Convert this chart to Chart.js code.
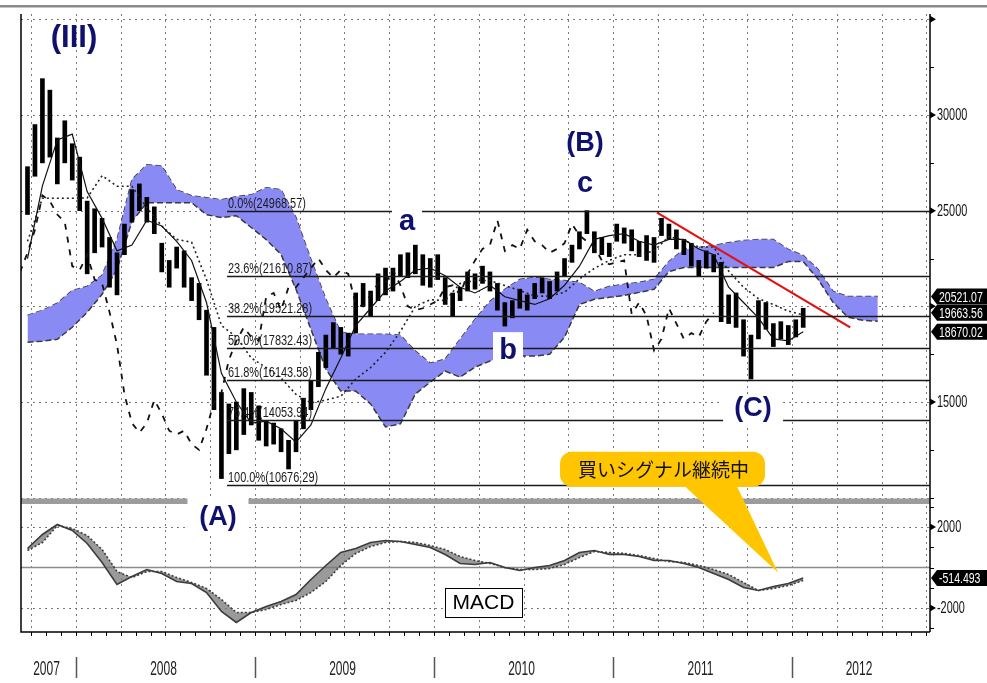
<!DOCTYPE html>
<html>
<head>
<meta charset="utf-8">
<script src="https://cdn.jsdelivr.net/npm/chart.js@4.4.1/dist/chart.umd.min.js"></script>
<style>
  html, body { margin: 0; padding: 0; background: #fff; }
  canvas { display: block; }
</style>
</head>
<body>
<canvas id="chart" width="987" height="683"></canvas>
<script>
// half-month index: 0 = Sep 2007 (2nd half), 1 = Oct 2007 (1st half) ... 104 = Jan 2012 (2nd half)
const X_MIN = -0.8715, X_MAX = 121.0;
const yearLabels = ['2007', '2008', '2009', '2010', '2011', '2012'];
const firstYearBoundary = 6.5;   // index where 2008 starts
const halfMonthsPerYear = 24;

// weekly price bars, sampled per half month
const highs = [27300, 29500, 31900, 31300, 28800, 29700, 28500, 27800, 25500, 25100,
  24600, 23600, 22800, 24300, 26100, 26400, 25700, 25200, 23300, 22400,
  23100, 22900, 21500, 21200, 19800, 18900, 15500, 14900, 15000, 15700,
  15500, 14800, 14000, 13900, 13600, 13000, 14000, 15200, 16100, 17600,
  18500, 19150, 18900, 18600, 20700, 21200, 20800, 21700, 22000, 22000,
  22700, 22800, 23200, 22700, 22500, 22700, 21500, 20700, 21000, 21800,
  21700, 22100, 21800, 21200, 20200, 20300, 20900, 20600, 21200, 21500,
  21300, 21800, 22500, 23200, 23900, 25000, 23900, 23600, 23300, 24300,
  24100, 24000, 23400, 23700, 23600, 24600, 24300, 24000, 23500, 23300,
  22400, 22900, 22700, 22300, 20600, 20700, 19300, 18500, 20300, 20200,
  19100, 19200, 19000, 19300, 19900];
const lows = [24800, 26800, 27500, 27800, 26400, 27500, 26600, 25000, 21700, 22800,
  23100, 21000, 20600, 22700, 24400, 25000, 24400, 23800, 21800, 21000,
  22000, 21000, 20300, 19300, 16400, 14600, 11000, 12300, 12500, 13300,
  13800, 13000, 12700, 12800, 12400, 11500, 12400, 13600, 14600, 15800,
  16800, 17800, 17500, 17400, 18600, 20000, 19500, 20300, 20600, 20800,
  21600, 21500, 21700, 21100, 21000, 21400, 20100, 19500, 20300, 20800,
  20900, 21200, 20800, 19800, 18970, 19400, 19900, 19800, 20400, 20700,
  20400, 20800, 21600, 22300, 23000, 23800, 22800, 22700, 22600, 23400,
  23300, 22900, 22600, 22400, 22300, 23700, 23500, 23000, 22700, 22100,
  21600, 22000, 21800, 19200, 19100, 18900, 17400, 16200, 18300, 18800,
  17900, 18300, 18000, 18400, 18900];
const closes = [27140, 29000, 31350, 28800, 28300, 28500, 27800, 25400, 24000, 23800,
  24000, 21800, 22800, 24000, 25800, 25500, 24800, 24400, 22100, 21900,
  22700, 21400, 21200, 19700, 18000, 15400, 13900, 13400, 13900, 15100,
  14400, 13500, 13300, 13500, 12800, 12500, 13600, 15000, 15500, 17200,
  18200, 18900, 18400, 18200, 20500, 20700, 19800, 21000, 21000, 21500,
  22000, 22500, 21900, 21500, 21900, 21700, 20100, 20000, 20600, 21200,
  21200, 21900, 21100, 20000, 19800, 19900, 20100, 20300, 21000, 21100,
  20600, 21700, 22400, 23000, 23200, 24500, 22900, 23200, 23000, 24000,
  23400, 23200, 22800, 23000, 23300, 24300, 23700, 23400, 23100, 22400,
  22200, 22300, 22400, 19600, 20200, 19500, 17700, 18300, 19900, 19100,
  18300, 18600, 18400, 19200, 19663.56];
const chikouShift = 12;   // 26 weeks

// monthly samples (index = 2 * j)
const tenkan = [22500, 26300, 28700, 29000, 26000, 24600, 22900, 23200, 24500, 24200,
  23400, 22400, 20200, 16500, 15000, 13900, 14000, 13600, 12900, 13800,
  15700, 17300, 19000, 19900, 20800, 21300, 21900, 22000, 21600, 21000,
  20700, 21100, 20500, 20300, 20100, 20400, 21100, 22100, 23500, 23700,
  23800, 23400, 23200, 23500, 23500, 23000, 22700, 21000, 20200, 19400,
  18300, 18200, 18670.02];
const kijun = [23400, 25650, 25650, 25650, 25670, 26830, 26280, 26280, 25150, 24200,
  23500, 23350, 21400, 19000, 18400, 17300, 16800, 16250, 15400, 14950,
  15100, 15300, 16200, 16800, 17600, 18700, 20000, 20350, 20300, 21200,
  21350, 21350, 21085, 20835, 20535, 20535, 20735, 21435, 21985, 22400,
  22700, 22700, 22900, 23650, 23450, 23100, 23100, 21850, 21000, 20400,
  20100, 19750, 19550];
const spanUpper = [19530, 19790, 20160, 20830, 21040, 21620, 23490, 26620, 27400, 27340,
  26090, 25780, 25680, 25570, 25730, 25830, 26200, 26090, 24640, 22450,
  20370, 18650, 18540, 18540, 18540, 18490, 17660, 17030, 17240, 18280,
  19320, 20260, 20890, 21410, 21510, 21410, 21350, 21250, 20780, 21040,
  21150, 21250, 21410, 22340, 22970, 23070, 23180, 23330, 23440, 23490,
  23490, 22970, 22660, 21930, 20780, 20520, 20520, 20521.07];
const spanLower = [18130, 18180, 18280, 18910, 19690, 20630, 21930, 24430, 25420, 25420,
  25420, 25420, 24790, 24640, 24740, 24120, 23490, 22710, 20890, 18800,
  16720, 15570, 15570, 14900, 13700, 13860, 15420, 16040, 16620, 16300,
  16820, 17140, 17340, 17400, 17400, 17500, 18390, 20100, 20370, 20470,
  20570, 20730, 20890, 21820, 22030, 22030, 22030, 22030, 22030, 22030,
  22030, 22340, 22340, 21410, 20210, 19430, 19270, 19220];
const macdLine = [938, 1630, 2123, 1827, 1185, 247, -840, -444, -99, -296,
  -691, -790, -1235, -2173, -2716, -2222, -1926, -1679, -1333, -593,
  99, 741, 938, 1235, 1333, 1284, 1136, 988, 642, 198,
  148, 247, 0, -148, 0, 99, 346, 741, 840, 642,
  642, 543, 346, 346, 198, 0, -296, -593, -988, -1136,
  -938, -790, -514.493];
const signalLine = [840, 1235, 2074, 1926, 1580, 889, -198, -494, -198, -198,
  -494, -741, -1037, -1580, -2222, -2222, -2074, -1827, -1630, -1235,
  -691, 99, 691, 1037, 1235, 1284, 1235, 1086, 889, 543,
  346, 198, 0, -99, -99, -49, 148, 494, 790, 741,
  691, 593, 444, 296, 247, 99, -99, -346, -741, -1136,
  -1037, -889, -642];

// Fibonacci retracement from the Oct 2008 low
const fibPct = [0.0, 23.6, 38.2, 50.0, 61.8, 76.4, 100.0];
const fibVal = [24968.57, 21610.87, 19521.28, 17832.43, 16143.58, 14053.94, 10676.29];
const fibStart = 26.75;

const trendX = [84.4, 110.3];
const trendY = [24900, 18900];

const gridMain = [10000, 15000, 20000, 25000, 30000, 35000];
const gridMacd = [2000, -2000];
const mainTickLabels = [30000, 25000, 15000];
const mainArrows = [35000, 30000, 25000, 20000, 15000];
const macdTickLabels = [2000, -2000];

const navy = '#10106e';
const monthly = arr => arr.map((v, j) => ({ x: j * 2, y: v }));

function narrowText(ctx, txt, x, y, size, sx, align, color, base) {
  ctx.save();
  ctx.font = size + 'px Arial, "Liberation Sans", sans-serif';
  ctx.fillStyle = color;
  ctx.textAlign = align;
  ctx.textBaseline = base || 'middle';
  ctx.translate(x, y);
  ctx.scale(sx, 1);
  ctx.fillText(txt, 0, 0);
  ctx.restore();
}

function valueTag(ctx, a, py, txt) {
  ctx.fillStyle = '#000';
  ctx.beginPath();
  ctx.moveTo(a.right + 1, py);
  ctx.lineTo(a.right + 7, py - 8);
  ctx.lineTo(987, py - 8);
  ctx.lineTo(987, py + 8);
  ctx.lineTo(a.right + 7, py + 8);
  ctx.closePath();
  ctx.fill();
  narrowText(ctx, txt, a.right + 9, py + 1, 15, 0.7, 'left', '#fff');
}

// wave labels: [text, index, value, axis, font size, box (w, top, bottom) or null]
const waveLabels = [
  ['(III)', 6.23, 33570, 'y', 31, null],
  ['(B)', 74.75, 28110, 'y', 27, null],
  ['c', 74.75, 25990, 'y', 29, null],
  ['a', 50.88, 24010, 'y', 29, [30, 25, 5]],
  ['b', 64.42, 17240, 'y', 29, [30, 27, 2]],
  ['(C)', 97.28, 14256, 'y', 27, [60, 20, 8]],
  ['(A)', 25.54, 2108, 'm', 27, [61, 27, 8]]
];

const overlay = {
  id: 'overlay',
  beforeDatasetsDraw(chart) {
    const { ctx, chartArea: a, scales: { x, y, m } } = chart;
    ctx.save();
    ctx.strokeStyle = '#7a7a7a';
    ctx.lineWidth = 1;
    ctx.setLineDash([2, 4]);
    ctx.beginPath();
    for (let q = 0.5; q < X_MAX; q += 6) {
      const px = Math.round(x.getPixelForValue(q)) + 0.5;
      ctx.moveTo(px, a.top); ctx.lineTo(px, a.bottom);
    }
    gridMain.forEach(v => {
      const py = Math.round(y.getPixelForValue(v)) + 0.5;
      ctx.moveTo(a.left, py); ctx.lineTo(a.right, py);
    });
    gridMacd.forEach(v => {
      const py = Math.round(m.getPixelForValue(v)) + 0.5;
      ctx.moveTo(a.left, py); ctx.lineTo(a.right, py);
    });
    ctx.stroke();
    ctx.setLineDash([]);
    ctx.strokeStyle = '#8c8c8c';
    ctx.lineWidth = 1.6;
    const zy = m.getPixelForValue(0);
    ctx.beginPath(); ctx.moveTo(a.left, zy); ctx.lineTo(a.right, zy); ctx.stroke();
    ctx.restore();
  },
  afterDatasetsDraw(chart) {
    const { ctx, chartArea: a, scales: { x, y, m } } = chart;
    ctx.save();

    // fibonacci levels
    const fx = x.getPixelForValue(fibStart);
    ctx.strokeStyle = '#1a1a1a';
    ctx.lineWidth = 1.6;
    fibVal.forEach((v, i) => {
      const py = Math.round(y.getPixelForValue(v)) + 0.5;
      ctx.beginPath(); ctx.moveTo(fx, py); ctx.lineTo(a.right, py); ctx.stroke();
      const txt = fibPct[i].toFixed(1) + '%(' + v.toFixed(2) + ')';
      narrowText(ctx, txt, fx + 1, py - 4, 15, 0.73, 'left', '#1a1a1a', 'alphabetic');
    });

    // panel separator
    const sy = y.getPixelForValue(9800);
    ctx.fillStyle = '#9c9c9c';
    ctx.fillRect(a.left, sy - 3, a.right - a.left, 5.5);

    // frame
    ctx.strokeStyle = '#000';
    ctx.lineWidth = 1.5;
    ctx.beginPath();
    ctx.moveTo(a.left, a.top); ctx.lineTo(a.left, a.bottom); ctx.lineTo(a.right, a.bottom);
    ctx.moveTo(a.right, a.top); ctx.lineTo(a.right, a.bottom);
    ctx.stroke();

    // right axis ticks
    ctx.lineWidth = 1;
    ctx.beginPath();
    for (let v = 10000; v <= 35000; v += 2500) {
      const py = Math.round(y.getPixelForValue(v)) + 0.5;
      ctx.moveTo(a.right, py); ctx.lineTo(a.right + 4, py);
    }
    for (let v = -3000; v <= 3000; v += 1000) {
      const py = Math.round(m.getPixelForValue(v)) + 0.5;
      ctx.moveTo(a.right, py); ctx.lineTo(a.right + 4, py);
    }
    ctx.stroke();
    const arrow = py => {
      ctx.fillStyle = '#000';
      ctx.beginPath();
      ctx.moveTo(a.right, py - 3.5); ctx.lineTo(a.right + 6, py); ctx.lineTo(a.right, py + 3.5);
      ctx.closePath(); ctx.fill();
    };
    mainArrows.forEach(v => arrow(y.getPixelForValue(v)));
    macdTickLabels.forEach(v => arrow(m.getPixelForValue(v)));
    mainTickLabels.forEach(v => narrowText(ctx, String(v), a.right + 7, y.getPixelForValue(v) + 1, 16, 0.68, 'left', '#111'));
    macdTickLabels.forEach(v => narrowText(ctx, String(v), a.right + 7, m.getPixelForValue(v) + 1, 16, 0.68, 'left', '#111'));

    // last-value tags
    const lastUpper = spanUpper[spanUpper.length - 1];
    const lastClose = closes[closes.length - 1];
    const lastTenkan = tenkan[tenkan.length - 1];
    const lastMacd = macdLine[macdLine.length - 1];
    valueTag(ctx, a, y.getPixelForValue(lastUpper), lastUpper.toFixed(2));
    valueTag(ctx, a, y.getPixelForValue(lastClose), lastClose.toFixed(2));
    valueTag(ctx, a, y.getPixelForValue(lastTenkan), lastTenkan.toFixed(2));
    valueTag(ctx, a, m.getPixelForValue(lastMacd), lastMacd.toFixed(3));

    // x axis: monthly ticks, year separators and labels
    ctx.strokeStyle = '#000';
    ctx.lineWidth = 1;
    ctx.beginPath();
    for (let q = 0.5; q < X_MAX; q += 2) {
      const px = Math.round(x.getPixelForValue(q)) + 0.5;
      ctx.moveTo(px, a.bottom); ctx.lineTo(px, a.bottom + 4);
    }
    ctx.stroke();
    ctx.strokeStyle = '#555';
    ctx.lineWidth = 1.5;
    const bounds = [];
    for (let k = 0; k < yearLabels.length - 1; k++) bounds.push(firstYearBoundary + k * halfMonthsPerYear);
    ctx.beginPath();
    bounds.forEach(b => {
      const px = Math.round(x.getPixelForValue(b)) + 0.5;
      ctx.moveTo(px, a.bottom + 25); ctx.lineTo(px, a.bottom + 46);
    });
    ctx.stroke();
    yearLabels.forEach((lab, k) => {
      const left = k === 0 ? a.left : x.getPixelForValue(bounds[k - 1]);
      const right = k === bounds.length ? a.right : x.getPixelForValue(bounds[k]);
      narrowText(ctx, lab, (left + right) / 2 - 2, a.bottom + 37, 20, 0.6, 'center', '#222');
    });

    // wave labels
    waveLabels.forEach(([txt, xi, v, ax, size, box]) => {
      const sc = ax === 'y' ? y : m;
      const px = x.getPixelForValue(xi);
      const py = sc.getPixelForValue(v);
      if (box) {
        ctx.fillStyle = '#fff';
        ctx.fillRect(px - box[0] / 2, py - box[1], box[0], box[1] + box[2]);
      }
      ctx.font = 'bold ' + size + 'px Arial, "Liberation Sans", sans-serif';
      ctx.fillStyle = navy;
      ctx.textAlign = 'center';
      ctx.textBaseline = 'alphabetic';
      ctx.fillText(txt, px, py);
    });

    // MACD caption
    const mx = x.getPixelForValue(61.14), my = m.getPixelForValue(-1704);
    ctx.fillStyle = '#fff';
    ctx.fillRect(mx - 38.5, my - 14.5, 77, 29);
    ctx.strokeStyle = '#000';
    ctx.lineWidth = 1;
    ctx.strokeRect(Math.round(mx - 38.5) + 0.5, Math.round(my - 14.5) + 0.5, 77, 29);
    ctx.font = '21px Arial, "Liberation Sans", sans-serif';
    ctx.fillStyle = '#000';
    ctx.textAlign = 'center';
    ctx.textBaseline = 'middle';
    ctx.fillText('MACD', mx, my + 1);

    // callout
    const cx = x.getPixelForValue(85.14), cy = y.getPixelForValue(11485);
    const tx = x.getPixelForValue(100.62), ty = m.getPixelForValue(-247);
    ctx.fillStyle = '#FFC600';
    ctx.beginPath();
    ctx.moveTo(cx + 19, cy + 14);
    ctx.lineTo(cx + 73, cy + 14);
    ctx.lineTo(tx, ty);
    ctx.closePath();
    ctx.fill();
    ctx.beginPath();
    ctx.roundRect(cx - 102.5, cy - 17.5, 205, 35, 12);
    ctx.fill();
    ctx.font = '19px "Noto Sans CJK JP", sans-serif';
    ctx.fillStyle = '#111';
    ctx.textAlign = 'center';
    ctx.textBaseline = 'middle';
    ctx.fillText('買いシグナル継続中', cx + 1, cy + 1);

    ctx.restore();
  },
  afterDraw(chart) {
    const { ctx, chartArea: a } = chart;
    ctx.save();
    ctx.fillStyle = '#8a8a8a';
    ctx.fillRect(0, a.top - 9, chart.width, 2.5);
    ctx.restore();
  }
};

new Chart(document.getElementById('chart'), {
  type: 'bar',
  data: {
    datasets: [
      {
        type: 'line', label: 'spanUpper', data: monthly(spanUpper),
        borderColor: '#3a3a3a', borderWidth: 1.5, borderDash: [6, 3],
        pointRadius: 0, fill: false, order: 10, yAxisID: 'y'
      },
      {
        type: 'line', label: 'spanLower', data: monthly(spanLower),
        borderColor: '#3a3a3a', borderWidth: 1.5, borderDash: [6, 3],
        backgroundColor: '#8a8af5', pointRadius: 0, fill: '-1', order: 9, yAxisID: 'y'
      },
      {
        type: 'bar', label: 'price', data: lows.map((lo, i) => ({ x: i, y: [lo, highs[i]] })),
        backgroundColor: '#000', borderWidth: 0, barThickness: 4, grouped: false,
        order: 5, yAxisID: 'y'
      },
      {
        type: 'line', label: 'chikou', data: closes.map((c, i) => ({ x: i - chikouShift, y: c })),
        borderColor: '#111', borderWidth: 1.8, borderDash: [6, 7],
        pointRadius: 0, fill: false, order: 4, yAxisID: 'y'
      },
      {
        type: 'line', label: 'kijun', data: monthly(kijun),
        borderColor: '#222', borderWidth: 1.6, borderDash: [2, 3],
        pointRadius: 0, fill: false, order: 3, yAxisID: 'y'
      },
      {
        type: 'line', label: 'tenkan', data: monthly(tenkan),
        borderColor: '#111', borderWidth: 1.2,
        pointRadius: 0, fill: false, order: 2, yAxisID: 'y'
      },
      {
        type: 'line', label: 'trend', data: trendX.map((v, i) => ({ x: v, y: trendY[i] })),
        borderColor: '#e41010', borderWidth: 2.2,
        pointRadius: 0, fill: false, order: 1, yAxisID: 'y'
      },
      {
        type: 'line', label: 'MACD', data: monthly(macdLine),
        borderColor: '#3c3c3c', borderWidth: 1.6,
        pointRadius: 0, fill: false, order: 1, yAxisID: 'm'
      },
      {
        type: 'line', label: 'signal', data: monthly(signalLine),
        borderColor: '#3c3c3c', borderWidth: 1.6, borderDash: [2, 2],
        backgroundColor: 'rgba(120,120,120,0.75)',
        pointRadius: 0, fill: '-1', order: 1, yAxisID: 'm'
      }
    ]
  },
  options: {
    responsive: false,
    animation: false,
    devicePixelRatio: 1,
    layout: { padding: { left: 21, right: 57, top: 14, bottom: 51 } },
    plugins: { legend: { display: false }, tooltip: { enabled: false } },
    scales: {
      x: { type: 'linear', min: X_MIN, max: X_MAX, display: false, offset: false },
      y: { type: 'linear', min: 2980, max: 35280, display: false },
      m: { type: 'linear', min: -3185, max: 27332, display: false }
    }
  },
  plugins: [overlay]
});
</script>
</body>
</html>
